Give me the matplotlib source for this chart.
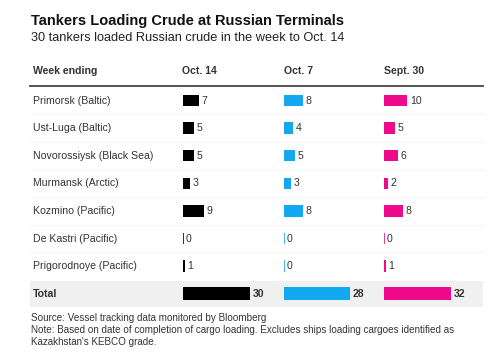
import matplotlib.pyplot as plt

plt.rcParams["font.family"] = ["Liberation Sans", "DejaVu Sans"]

TITLE = "Tankers Loading Crude at Russian Terminals"
SUBTITLE = "30 tankers loaded Russian crude in the week to Oct. 14"
FOOTNOTE = ("Source: Vessel tracking data monitored by Bloomberg\n"
            "Note: Based on date of completion of cargo loading. Excludes ships loading cargoes identified as\n"
            "Kazakhstan's KEBCO grade.")

terminals = ["Primorsk (Baltic)", "Ust-Luga (Baltic)", "Novorossiysk (Black Sea)",
             "Murmansk (Arctic)", "Kozmino (Pacific)", "De Kastri (Pacific)",
             "Prigorodnoye (Pacific)"]
weeks = ["Oct. 14", "Oct. 7", "Sept. 30"]
oct14 = [7, 5, 5, 3, 9, 0, 1]
oct7 = [8, 4, 5, 3, 8, 0, 0]
sept30 = [10, 5, 6, 2, 8, 0, 1]
totals = [30, 28, 32]

COLORS = ["#000000", "#12a9f0", "#ee0a8c"]
TEXT = "#333333"

# layout in pixel units of the 500x363 canvas
COL_X = [182.5, 283.5, 383.5]
ROW_Y0, ROW_DY = 100.5, 27.6
UNIT = 2.38          # px per tanker
TOTAL_CAP = 28.3     # total bars are capped at this width (in tankers)
LEFT, RIGHT = 30, 483


def main() -> None:
    fig = plt.figure(figsize=(5, 3.63), dpi=100)
    ax = fig.add_axes([0, 0, 1, 1])
    ax.set_xlim(0, 500)
    ax.set_ylim(363, 0)
    ax.axis("off")

    fig.text(31 / 500, 1 - 13.5 / 363, TITLE, fontsize=10.5, fontweight="bold",
             color="#111111", va="top")
    fig.text(31 / 500, 1 - 32 / 363, SUBTITLE, fontsize=9.2, color="#222222", va="top")

    # header
    fs = 7.6
    ax.text(33, 71, "Week ending", fontsize=fs, fontweight="bold", color=TEXT, va="center")
    for x, w in zip(COL_X, weeks):
        ax.text(x, 71, w, fontsize=fs, fontweight="bold", color=TEXT, va="center")
    ax.plot([LEFT, RIGHT], [86, 86], color="#444444", lw=1.3)

    series = [oct14, oct7, sept30]
    n = len(terminals)
    for i, name in enumerate(terminals):
        y = ROW_Y0 + i * ROW_DY
        ax.text(33, y, name, fontsize=fs, color=TEXT, va="center")
        if i < n - 1:
            ax.plot([LEFT, RIGHT], [y + ROW_DY / 2] * 2, color="#f6f6f6", lw=0.8)
        for x, vals, c in zip(COL_X, series, COLORS):
            v = vals[i]
            w = max(v * UNIT, 1.0)
            ax.barh(y, w, left=x, height=11.5, color=c, alpha=1 if v else 0.8)
            ax.text(x + w + 2.5, y, str(v), fontsize=fs, color=TEXT, va="center")

    # total row
    y = ROW_Y0 + n * ROW_DY
    ax.axhspan(y - 13, y + 13, xmin=LEFT / 500, xmax=RIGHT / 500, color="#f0f0f0", lw=0)
    ax.text(33, y, "Total", fontsize=fs, fontweight="bold", color=TEXT, va="center")
    for x, v, c in zip(COL_X, totals, COLORS):
        w = min(v, TOTAL_CAP) * UNIT
        ax.barh(y, w, left=x, height=12.5, color=c)
        ax.text(x + w + 2.5, y, str(v), fontsize=fs, fontweight="bold", color=TEXT, va="center")

    fig.text(31 / 500, 1 - 313 / 363, FOOTNOTE, fontsize=7.1, color=TEXT, va="top",
             linespacing=1.25)

    fig.savefig("out.png", dpi=100)


if __name__ == "__main__":
    main()
